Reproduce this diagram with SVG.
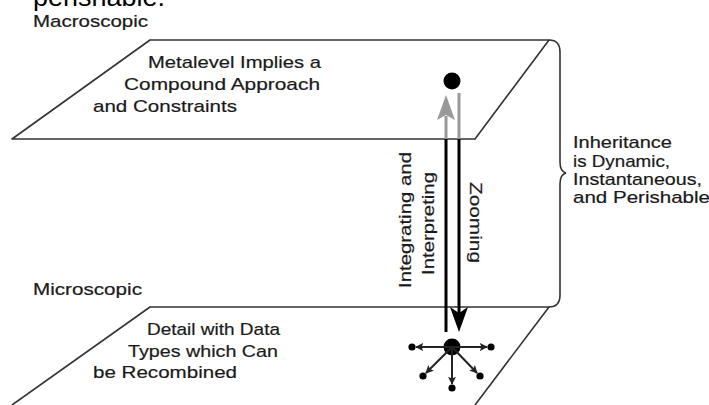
<svg xmlns="http://www.w3.org/2000/svg" width="709" height="405" viewBox="0 0 709 405">
<defs>
<style>
.t{font-family:"Liberation Sans",Arial,sans-serif;font-size:17px;fill:#1a1a1a;stroke:#1a1a1a;stroke-width:0.2px;}
.plane{fill:none;stroke:#333;stroke-width:1.6;stroke-linejoin:round;}
.blk{stroke:#000;stroke-width:3;fill:none;}
.gry{stroke:#999;stroke-width:3;fill:none;}
.sat{stroke:#222;stroke-width:2;fill:none;marker-end:url(#ah);}
</style>
<marker id="ah" viewBox="0 0 10 10" refX="9" refY="5" markerWidth="4" markerHeight="4" orient="auto" markerUnits="strokeWidth">
<path d="M0,0 L10,5 L0,10 L2,5 Z" fill="#222"/>
</marker>
</defs>
<rect width="709" height="405" fill="#fff"/>
<text x="33" y="6" font-family="Liberation Sans,Arial,sans-serif" font-size="26" fill="#000" textLength="132" lengthAdjust="spacingAndGlyphs">perishable.</text>

<g id="macroscopic">
<path class="plane" d="M150,40 L549,40 L475,139 L12,139 Z"/>
<text class="t" x="33" y="27" textLength="115" lengthAdjust="spacingAndGlyphs">Macroscopic</text>
<text class="t" x="148" y="68" textLength="173" lengthAdjust="spacingAndGlyphs">Metalevel Implies a</text>
<text class="t" x="124" y="90" textLength="196" lengthAdjust="spacingAndGlyphs">Compound Approach</text>
<text class="t" x="93" y="112" textLength="144" lengthAdjust="spacingAndGlyphs">and Constraints</text>
<circle cx="452" cy="81" r="8.5" fill="#000"/>
</g>

<g id="microscopic">
<path class="plane" d="M12,405 L150,307 L549,307 L475,405"/>
<text class="t" x="33" y="295" textLength="109" lengthAdjust="spacingAndGlyphs">Microscopic</text>
<text class="t" x="147" y="335" textLength="133" lengthAdjust="spacingAndGlyphs">Detail with Data</text>
<text class="t" x="128" y="357" textLength="150" lengthAdjust="spacingAndGlyphs">Types which Can</text>
<text class="t" x="93" y="378" textLength="144" lengthAdjust="spacingAndGlyphs">be Recombined</text>
<circle cx="452" cy="347" r="8.5" fill="#000"/>
<circle cx="412" cy="347" r="3.6" fill="#000"/>
<circle cx="491" cy="347" r="3.6" fill="#000"/>
<circle cx="423" cy="376" r="3.6" fill="#000"/>
<circle cx="452" cy="388" r="3.6" fill="#000"/>
<circle cx="480" cy="376" r="3.6" fill="#000"/>
</g>

<g id="inheritance">
<path d="M549,40 C557,40 560,44 560,52 L560,162 C560,168 562,172 566,173 C562,174 560,178 560,184 L560,295 C560,303 557,307 549,307" fill="none" stroke="#333" stroke-width="1.6"/>
<text class="t" x="573" y="148" textLength="99" lengthAdjust="spacingAndGlyphs">Inheritance</text>
<text class="t" x="573" y="167" textLength="97" lengthAdjust="spacingAndGlyphs">is Dynamic,</text>
<text class="t" x="573" y="185" textLength="129" lengthAdjust="spacingAndGlyphs">Instantaneous,</text>
<text class="t" x="573" y="203" textLength="137" lengthAdjust="spacingAndGlyphs">and Perishable</text>
</g>

<g id="connectors">
<line class="gry" x1="446" y1="139" x2="446" y2="116"/>
<path d="M446,95 L437,120 L446,115 L455,120 Z" fill="#999"/>
<line class="blk" x1="446" y1="139" x2="446" y2="332"/>
<line class="gry" x1="459" y1="93" x2="459" y2="139"/>
<line class="blk" x1="459" y1="139" x2="459" y2="314"/>
<path d="M459,332 L450,307 L459,313 L468,307 Z" fill="#000"/>
<text class="t" transform="translate(411,288) rotate(-90)" textLength="136" lengthAdjust="spacingAndGlyphs">Integrating and</text>
<text class="t" transform="translate(434,275) rotate(-90)" textLength="103" lengthAdjust="spacingAndGlyphs">Interpreting</text>
<text class="t" transform="translate(470,182) rotate(90)" textLength="81" lengthAdjust="spacingAndGlyphs">Zooming</text>
<line class="sat" x1="452" y1="347" x2="416" y2="347"/>
<line class="sat" x1="452" y1="347" x2="487" y2="347"/>
<line class="sat" x1="452" y1="347" x2="426" y2="373"/>
<line class="sat" x1="452" y1="347" x2="452" y2="384"/>
<line class="sat" x1="452" y1="347" x2="477" y2="373"/>
</g>
</svg>
